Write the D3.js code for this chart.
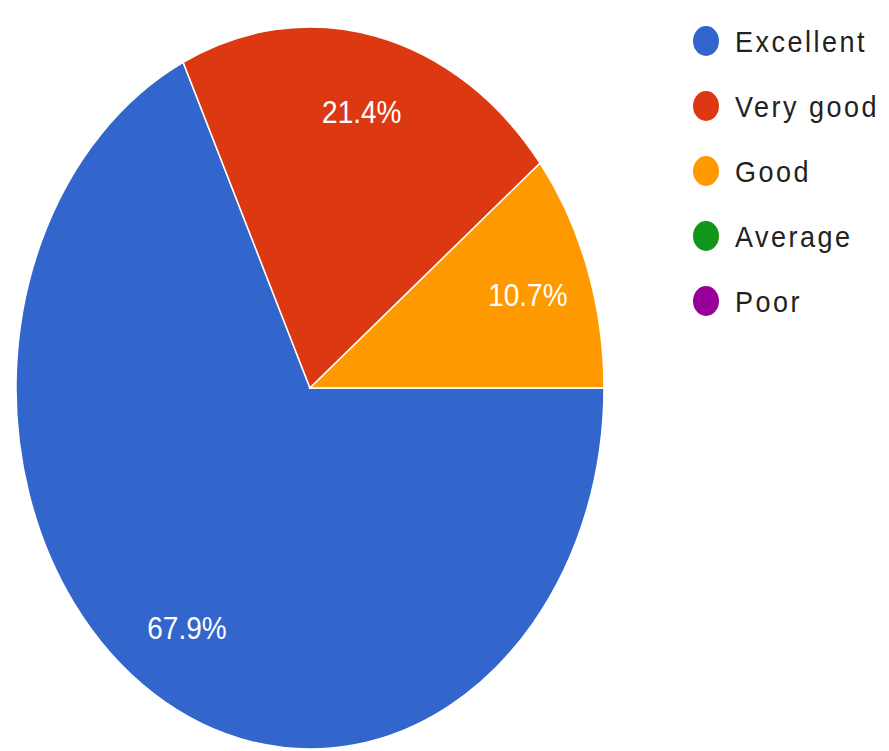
<!DOCTYPE html>
<html>
<head>
<meta charset="utf-8">
<script src="https://cdn.jsdelivr.net/npm/d3@7"></script>
<style>
  html, body { margin: 0; padding: 0; background: #ffffff; }
  svg { display: block; }
</style>
</head>
<body>
<svg id="chart" width="889" height="751"></svg>
<script>
// ---- data ----
const categories = ["Excellent", "Very good", "Good", "Average", "Poor"];
const percentages = [67.9, 21.4, 10.7, 0, 0];
const colors = ["#3366cc", "#dc3912", "#ff9900", "#109618", "#990099"];

// ---- layout ----
const cx = 310, cy = 388;
const rx = 294, ry = 361;
const ky = ry / rx;

const svg = d3.select("#chart");

const pie = d3.pie()
  .sort(null)
  .value(d => d.value)
  .startAngle(Math.PI / 2)
  .endAngle(Math.PI / 2 + 2 * Math.PI);

const data = categories.map((c, i) => ({ name: c, value: percentages[i], color: colors[i] }));
const arcs = pie(data);

const arc = d3.arc().innerRadius(0).outerRadius(rx);
const labelArc = d3.arc().innerRadius(rx * 0.785).outerRadius(rx * 0.785);

const g = svg.append("g")
  .attr("transform", `translate(${cx},${cy}) scale(1,${ky})`);

g.selectAll("path.slice")
  .data(arcs.filter(a => a.data.value > 0))
  .join("path")
  .attr("class", "slice")
  .attr("d", arc)
  .attr("fill", d => d.data.color)
  .attr("stroke", "#ffffff")
  .attr("stroke-width", 1.5)
  .attr("vector-effect", "non-scaling-stroke");

// slice labels
const lbl = svg.append("g");
arcs.filter(a => a.data.value > 0).forEach(a => {
  const [x, y] = labelArc.centroid(a);
  lbl.append("text")
    .attr("transform", `translate(${cx + x},${cy + y * ky}) scale(1,1.15)`)
    .attr("text-anchor", "middle")
    .attr("dy", "0.35em")
    .attr("fill", "#ffffff")
    .attr("font-family", "Liberation Sans, Arial, sans-serif")
    .attr("font-size", 28)
    .text(d3.format(".1f")(a.data.value) + "%");
});

// legend
const legendX = 706, legendY0 = 41, legendStep = 65;
const leg = svg.append("g");
const items = leg.selectAll("g.item")
  .data(data)
  .join("g")
  .attr("class", "item")
  .attr("transform", (d, i) => `translate(${legendX},${legendY0 + i * legendStep})`);

items.append("ellipse")
  .attr("rx", 13)
  .attr("ry", 15)
  .attr("fill", d => d.color);

items.append("text")
  .attr("transform", "translate(29,0) scale(1,1.08)")
  .attr("dy", "0.36em")
  .attr("fill", "#222222")
  .attr("font-family", "Liberation Sans, Arial, sans-serif")
  .attr("font-size", 27)
  .attr("letter-spacing", 2.5)
  .text(d => d.name);
</script>
</body>
</html>
